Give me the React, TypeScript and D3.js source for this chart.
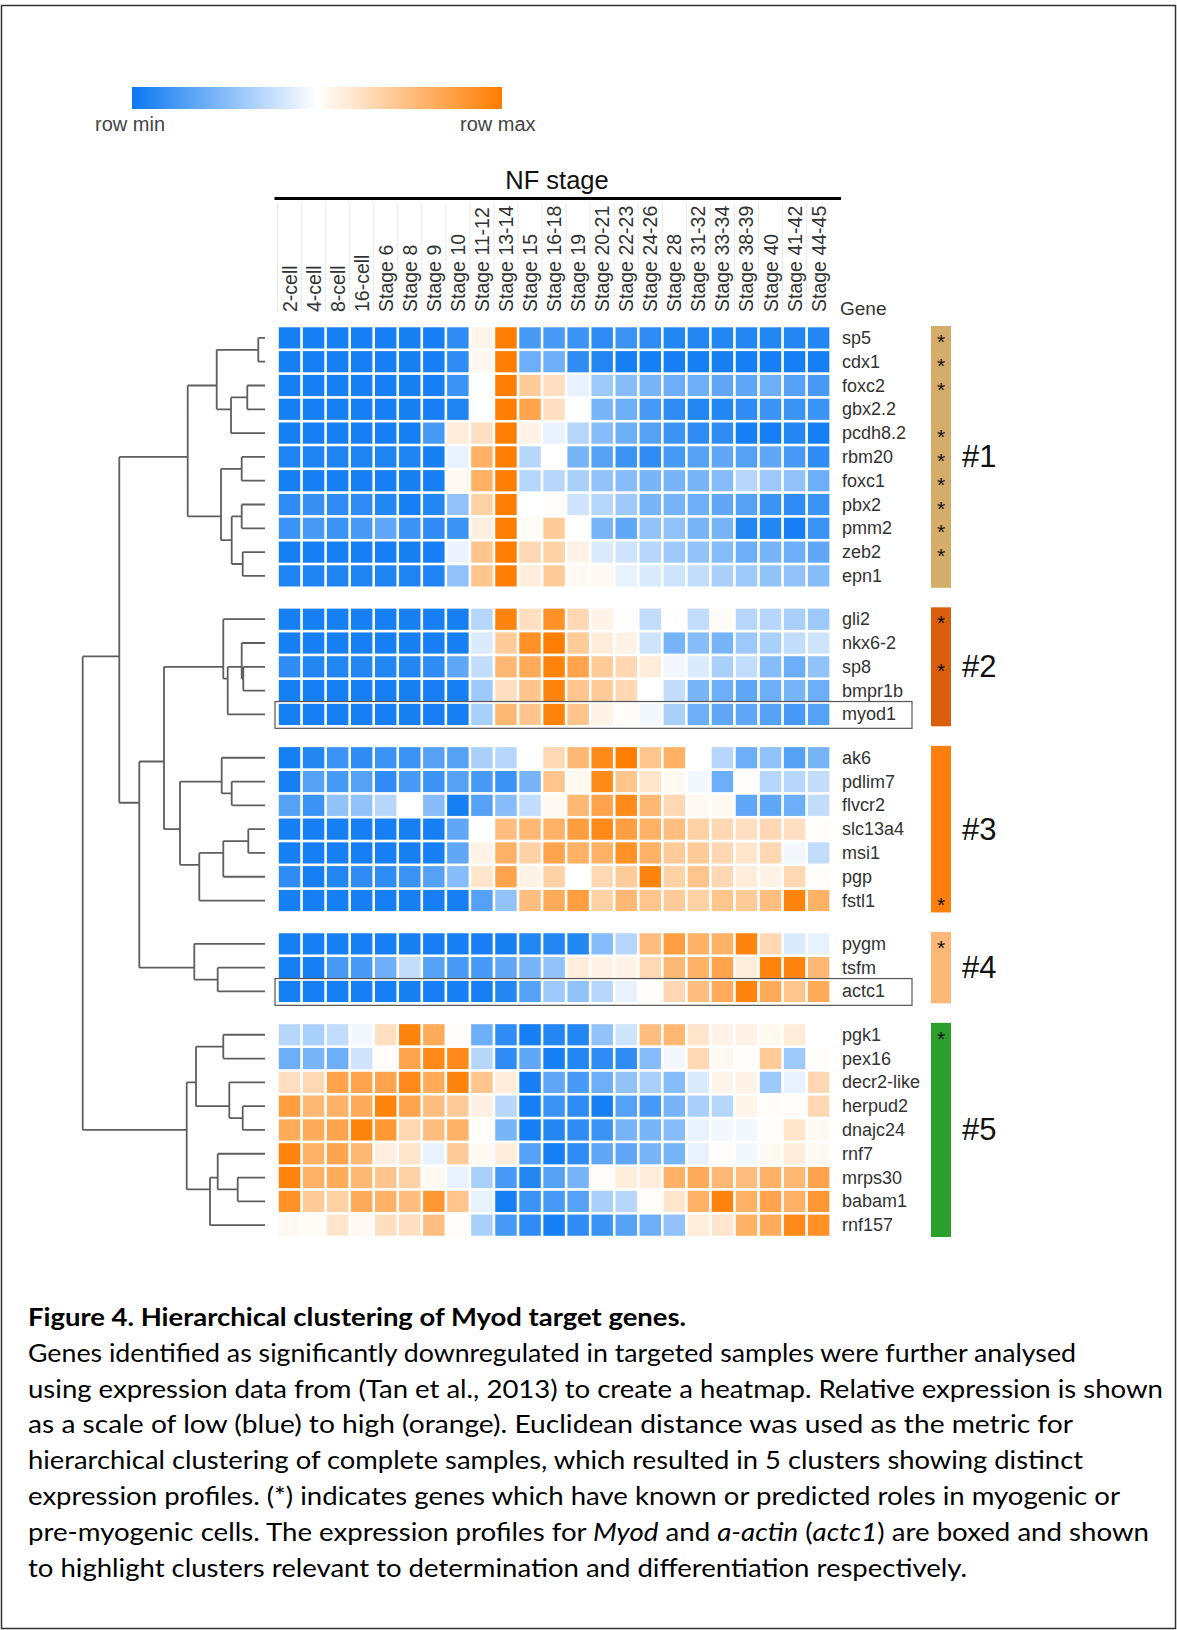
import React from 'react';
import * as d3 from 'd3';

const stages = ['2-cell', '4-cell', '8-cell', '16-cell', 'Stage 6', 'Stage 8', 'Stage 9', 'Stage 10', 'Stage 11-12', 'Stage 13-14', 'Stage 15', 'Stage 16-18', 'Stage 19', 'Stage 20-21', 'Stage 22-23', 'Stage 24-26', 'Stage 28', 'Stage 31-32', 'Stage 33-34', 'Stage 38-39', 'Stage 40', 'Stage 41-42', 'Stage 44-45'];

const cluster1Genes = ['sp5', 'cdx1', 'foxc2', 'gbx2.2', 'pcdh8.2', 'rbm20', 'foxc1', 'pbx2', 'pmm2', 'zeb2', 'epn1'];
const cluster1Values = [
  [-0.95, -0.95, -0.95, -0.95, -0.95, -0.95, -0.95, -0.85, 0.08, 1, -0.75, -0.75, -0.8, -0.85, -0.8, -0.85, -0.9, -0.9, -0.9, -0.9, -0.9, -0.9, -0.9],
  [-0.95, -0.95, -0.95, -0.95, -0.95, -0.95, -0.95, -0.85, 0.06, 1, -0.6, -0.6, -0.85, -0.9, -0.95, -0.95, -0.95, -0.95, -0.95, -0.95, -0.95, -0.95, -0.95],
  [-0.95, -0.95, -0.95, -0.95, -0.95, -0.95, -0.95, -0.8, 0, 1, 0.4, 0.25, -0.1, -0.4, -0.5, -0.55, -0.6, -0.6, -0.65, -0.65, -0.6, -0.7, -0.75],
  [-0.95, -0.95, -0.95, -0.95, -0.95, -0.95, -0.95, -0.92, 0, 1, 0.7, 0.25, 0, -0.55, -0.6, -0.75, -0.85, -0.9, -0.9, -0.85, -0.8, -0.8, -0.8],
  [-0.95, -0.95, -0.95, -0.95, -0.95, -0.95, -0.75, 0.15, 0.25, 1, 0.1, -0.1, -0.3, -0.5, -0.6, -0.7, -0.8, -0.85, -0.85, -0.95, -0.95, -0.9, -0.95],
  [-0.92, -0.92, -0.92, -0.92, -0.92, -0.92, -0.95, -0.1, 0.6, 1, -0.3, 0, -0.55, -0.7, -0.8, -0.85, -0.75, -0.7, -0.65, -0.7, -0.65, -0.75, -0.85],
  [-0.95, -0.95, -0.95, -0.95, -0.95, -0.95, -0.95, 0.05, 0.6, 1, -0.3, -0.3, -0.35, -0.45, -0.5, -0.55, -0.55, -0.55, -0.5, -0.3, -0.4, -0.45, -0.6],
  [-0.85, -0.82, -0.85, -0.85, -0.9, -0.95, -0.9, -0.45, 0.35, 1, 0, 0.02, -0.2, -0.3, -0.4, -0.55, -0.55, -0.6, -0.65, -0.7, -0.8, -0.85, -0.8],
  [-0.8, -0.75, -0.8, -0.75, -0.65, -0.8, -0.85, -0.8, 0.12, 1, 0.03, 0.4, 0, -0.55, -0.65, -0.45, -0.45, -0.55, -0.55, -0.9, -0.9, -0.95, -0.8],
  [-0.95, -0.95, -0.95, -0.95, -0.95, -0.95, -0.95, -0.08, 0.45, 1, 0.3, 0.35, 0.1, -0.15, -0.2, -0.3, -0.4, -0.45, -0.5, -0.6, -0.55, -0.6, -0.65],
  [-0.92, -0.92, -0.92, -0.92, -0.92, -0.92, -0.92, -0.45, 0.45, 1, 0.15, 0.4, 0.05, 0.05, -0.1, -0.15, -0.2, -0.25, -0.35, -0.4, -0.45, -0.45, -0.5],
];

const cluster2Genes = ['gli2', 'nkx6-2', 'sp8', 'bmpr1b', 'myod1'];
const cluster2Values = [
  [-0.95, -0.95, -0.95, -0.95, -0.95, -0.95, -0.95, -0.95, -0.3, 0.95, 0.25, 0.85, 0.3, 0.1, 0.02, -0.25, 0, -0.25, 0.03, -0.3, -0.3, -0.35, -0.4],
  [-0.95, -0.95, -0.95, -0.95, -0.95, -0.95, -0.95, -0.95, -0.15, 0.4, 0.85, 1, 0.4, 0.15, 0.1, -0.2, -0.55, -0.5, -0.55, -0.4, -0.35, -0.25, -0.2],
  [-0.85, -0.9, -0.9, -0.9, -0.9, -0.9, -0.85, -0.65, -0.25, 0.55, 0.65, 0.95, 0.7, 0.4, 0.3, 0.15, -0.05, -0.15, -0.35, -0.25, -0.5, -0.6, -0.45],
  [-0.95, -0.95, -0.95, -0.95, -0.95, -0.95, -0.95, -0.95, -0.4, 0.25, 0.45, 0.95, 0.45, 0.4, 0.3, 0, -0.25, -0.55, -0.6, -0.65, -0.6, -0.55, -0.6],
  [-0.95, -0.95, -0.95, -0.95, -0.95, -0.95, -0.95, -0.95, -0.35, 0.55, 0.45, 0.95, 0.45, 0.1, 0.02, -0.05, -0.35, -0.6, -0.65, -0.65, -0.7, -0.75, -0.7],
];

const cluster3Genes = ['ak6', 'pdlim7', 'flvcr2', 'slc13a4', 'msi1', 'pgp', 'fstl1'];
const cluster3Values = [
  [-0.95, -0.9, -0.8, -0.85, -0.8, -0.8, -0.7, -0.7, -0.35, -0.3, 0, 0.3, 0.55, 0.9, 1, 0.45, 0.6, 0, -0.3, -0.6, -0.45, -0.7, -0.55],
  [-0.95, -0.7, -0.75, -0.7, -0.85, -0.75, -0.8, -0.7, -0.75, -0.8, -0.55, 0.45, 0.05, 0.9, 0.45, 0.2, 0.05, -0.05, -0.6, 0.02, -0.3, -0.3, -0.25],
  [-0.7, -0.8, -0.45, -0.45, -0.3, 0, -0.5, -0.95, -0.7, -0.5, -0.25, 0.05, 0.55, 0.7, 0.9, 0.55, 0.3, 0.05, 0.05, -0.65, -0.65, -0.6, -0.25],
  [-0.95, -0.95, -0.95, -0.95, -0.95, -0.95, -0.95, -0.65, 0, 0.5, 0.55, 0.6, 0.75, 0.9, 0.75, 0.6, 0.5, 0.35, 0.3, 0.25, 0.3, 0.25, 0.02],
  [-0.95, -0.95, -0.95, -0.95, -0.95, -0.95, -0.95, -0.65, 0.1, 0.6, 0.35, 0.7, 0.6, 0.6, 0.85, 0.6, 0.4, 0.4, 0.3, 0.2, 0.3, -0.05, -0.25],
  [-0.85, -0.95, -0.9, -0.85, -0.85, -0.8, -0.7, -0.5, 0.2, 0.7, 0.1, 0.35, 0, 0.3, 0.4, 0.95, 0.35, 0.45, 0.3, 0.15, 0.1, 0.3, 0.02],
  [-0.95, -0.95, -0.95, -0.95, -0.95, -0.95, -0.95, -0.95, -0.7, -0.45, 0.5, 0.65, 0.75, 0.35, 0.55, 0.45, 0.4, 0.35, 0.45, 0.4, 0.5, 0.95, 0.6],
];

const cluster4Genes = ['pygm', 'tsfm', 'actc1'];
const cluster4Values = [
  [-0.95, -0.95, -0.95, -0.95, -0.95, -0.95, -0.95, -0.95, -0.95, -0.95, -0.9, -0.9, -0.9, -0.5, -0.3, 0.5, 0.75, 0.6, 0.6, 0.95, 0.3, -0.15, -0.1],
  [-0.95, -0.95, -0.75, -0.75, -0.6, -0.25, -0.7, -0.75, -0.75, -0.65, -0.55, -0.45, 0.15, 0.1, 0.1, 0.3, 0.55, 0.6, 0.7, 0.15, 0.95, 0.95, 0.55],
  [-0.95, -0.95, -0.95, -0.95, -0.95, -0.95, -0.95, -0.95, -0.95, -0.9, -0.7, -0.4, -0.45, -0.3, -0.1, 0.02, 0.3, 0.5, 0.65, 0.95, 0.65, 0.45, 0.65],
];

const cluster5Genes = ['pgk1', 'pex16', 'decr2-like', 'herpud2', 'dnajc24', 'rnf7', 'mrps30', 'babam1', 'rnf157'];
const cluster5Values = [
  [-0.3, -0.35, -0.25, -0.05, 0.25, 0.95, 0.65, 0.02, -0.6, -0.85, -0.95, -0.9, -0.9, -0.45, -0.2, 0.5, 0.55, 0.2, 0.1, 0.1, 0.05, 0.15, 0],
  [-0.6, -0.55, -0.6, -0.2, 0.02, 0.7, 0.9, 0.9, -0.3, -0.85, -0.65, -0.95, -0.9, -0.85, -0.85, -0.5, -0.05, 0.3, 0.05, 0.02, 0.4, -0.4, 0.02],
  [0.25, 0.3, 0.7, 0.7, 0.7, 0.9, 0.65, 0.95, 0.45, 0.15, -0.95, -0.65, -0.75, -0.6, -0.45, -0.35, -0.5, -0.15, 0.08, 0.1, -0.4, -0.1, 0.3],
  [0.75, 0.55, 0.6, 0.65, 0.95, 0.7, 0.5, 0.4, 0.12, -0.3, -0.95, -0.8, -0.85, -0.95, -0.7, -0.75, -0.55, -0.35, -0.3, 0.08, 0.02, 0.02, 0.3],
  [0.65, 0.65, 0.7, 0.95, 0.8, 0.3, 0.5, 0.6, 0.02, -0.55, -0.95, -0.9, -0.85, -0.8, -0.55, -0.55, -0.5, -0.1, -0.05, -0.05, 0.02, 0.2, 0.05],
  [0.95, 0.6, 0.7, 0.55, 0.12, 0.2, -0.1, 0.4, 0.05, 0.15, -0.7, -0.95, -0.85, -0.65, -0.65, -0.55, -0.55, -0.1, 0.02, -0.05, 0.05, 0.15, 0.05],
  [0.95, 0.6, 0.65, 0.55, 0.45, 0.35, 0.05, -0.1, -0.35, -0.75, -0.9, -0.7, -0.55, 0.02, 0.15, 0.15, 0.6, 0.65, 0.55, 0.5, 0.6, 0.55, 0.7],
  [0.85, 0.4, 0.35, 0.65, 0.6, 0.5, 0.8, 0.45, -0.1, -0.95, -0.8, -0.75, -0.7, -0.35, -0.3, 0.02, 0.2, 0.6, 0.95, 0.6, 0.7, 0.6, 0.8],
  [0.05, 0.03, 0.2, 0.05, 0.25, 0.25, 0.5, 0.02, -0.35, -0.75, -0.85, -0.95, -0.85, -0.8, -0.7, -0.6, -0.45, 0.15, 0.2, 0.6, 0.65, 0.9, 0.85],
];

const clusterNames = ['#1', '#2', '#3', '#4', '#5'];
const clusterColors = ['#d5ad6a', '#d95f0e', '#ff7f0e', '#fdb877', '#2ca02c'];
const myogenicGenes = ['sp5', 'cdx1', 'foxc2', 'pcdh8.2', 'rbm20', 'foxc1', 'pbx2', 'pmm2', 'zeb2', 'gli2', 'sp8', 'fstl1', 'pygm', 'pgk1'];
const boxedGenes = ['myod1', 'actc1'];

type DNode = string | { h: number; c: DNode[] };
const m = (h: number, ...c: DNode[]): DNode => ({ h, c });
// merge heights (distance units) of the gene dendrogram
const dendrogram: DNode = m(182.3,
  m(145.7,
    m(77.3,
      m(48.3, m(6.7, 'sp5', 'cdx1'), m(34, m(17.7, 'foxc2', 'gbx2.2'), 'pcdh8.2')),
      m(44, m(23.3, 'rbm20', 'foxc1'), m(33.3, m(23.3, 'pbx2', 'pmm2'), m(22.3, 'zeb2', 'epn1')))),
    m(125.7,
      m(101,
        m(41.7, 'gli2', m(37.3, m(23.3, 'nkx6-2', m(21.7, 'sp8', 'bmpr1b')), 'myod1')),
        m(85,
          m(43.3, 'ak6', m(33.3, 'pdlim7', 'flvcr2')),
          m(65.7, m(41.7, m(16.7, 'slc13a4', 'msi1'), 'pgp'), 'fstl1'))),
      m(70.7, 'pygm', m(47.3, 'tsfm', 'actc1')))),
  m(78.3,
    m(69, m(41.7, 'pgk1', 'pex16'), m(35.7, 'decr2-like', m(22.3, 'herpud2', 'dnajc24'))),
    m(55, m(47.3, 'rnf7', m(27.3, 'mrps30', 'babam1')), 'rnf157')));

const legendLabels = ['row min', 'row max'];
const axisTitle = 'NF stage';
const rowAxisTitle = 'Gene';

type Seg = { t: string; i?: boolean };
const captionTitle = 'Figure 4. Hierarchical clustering of Myod target genes.';
const captionLines: Seg[][] = [
  [{ t: 'Genes identified as significantly downregulated in targeted samples were further analysed' }],
  [{ t: 'using expression data from (Tan et al., 2013) to create a heatmap. Relative expression is shown' }],
  [{ t: 'as a scale of low (blue) to high (orange). Euclidean distance was used as the metric for' }],
  [{ t: 'hierarchical clustering of complete samples, which resulted in 5 clusters showing distinct' }],
  [{ t: 'expression profiles. (*) indicates genes which have known or predicted roles in myogenic or' }],
  [{ t: 'pre-myogenic cells. The expression profiles for ' }, { t: 'Myod', i: true }, { t: ' and ' }, { t: 'a-actin', i: true }, { t: ' (' }, { t: 'actc1', i: true }, { t: ') are boxed and shown' }],
  [{ t: 'to highlight clusters relevant to determination and differentiation respectively.' }],
];
const captionWidths = [658, 1048, 1135, 1045, 1055, 1092, 1121, 939];

const FONT = "'Liberation Sans', Arial, Helvetica, sans-serif";
const CAP_FONT = "Lato, 'Open Sans', sans-serif";

export default function App() {
  const W = 1177;
  const H = 1630;

  const clusters = [
    { genes: cluster1Genes, values: cluster1Values },
    { genes: cluster2Genes, values: cluster2Values },
    { genes: cluster3Genes, values: cluster3Values },
    { genes: cluster4Genes, values: cluster4Values },
    { genes: cluster5Genes, values: cluster5Values },
  ];

  const gapRatio = 0.82;
  const rows: { gene: string; slot: number; ci: number; values: number[] }[] = [];
  const clusterSpan: { start: number; end: number }[] = [];
  let slot = 0;
  clusters.forEach((c, ci) => {
    if (ci > 0) slot += gapRatio;
    const start = slot;
    c.genes.forEach((g, gi) => {
      rows.push({ gene: g, slot, ci, values: c.values[gi] });
      slot += 1;
    });
    clusterSpan.push({ start, end: slot });
  });
  const totalSlots = slot;
  const rowH = 23.8;
  const top = 326;
  const y = d3.scaleLinear().domain([0, totalSlots]).range([top, top + totalSlots * rowH]);
  const x = d3.scaleBand<string>().domain(stages).range([277.5, 277.5 + 23 * 24.05]);
  const color = d3.scaleLinear<string>().domain([-1, 0, 1]).range(['#0a78f2', '#ffffff', '#ff7d00']).interpolate(d3.interpolateRgb).clamp(true);

  const leafY: Record<string, number> = {};
  rows.forEach(r => { leafY[r.gene] = y(r.slot + 0.5); });

  const maxH = (dendrogram as any).h as number;
  const dx = d3.scaleLinear().domain([0, maxH]).range([265, 82.7]);
  const root = d3.hierarchy<DNode>(dendrogram, d => (typeof d === 'string' ? undefined : d.c));
  const nodeY = new Map<any, number>();
  root.eachAfter(n => {
    if (!n.children) nodeY.set(n, leafY[n.data as string]);
    else nodeY.set(n, d3.mean(n.leaves(), l => leafY[l.data as string]) as number);
  });
  const hOf = (n: d3.HierarchyNode<DNode>) => (typeof n.data === 'string' ? 0 : n.data.h);
  const dendroPath: string[] = [];
  root.each(n => {
    if (!n.children) return;
    const xp = dx(hOf(n));
    const ys = n.children.map(c => nodeY.get(c) as number);
    dendroPath.push(`M${xp},${d3.min(ys)}V${d3.max(ys)}`);
    n.children.forEach(c => {
      dendroPath.push(`M${xp},${nodeY.get(c)}H${dx(hOf(c))}`);
    });
  });

  const bw = x.bandwidth();
  const cellGap = 2.6;
  const legendX = d3.scaleLinear().domain([-1, 1]).range([132, 502]);
  const gradStops = [-1, -0.5, 0, 0.5, 1];

  const capY0 = 1326;
  const capStep = 35.8;

  return (
    <svg width={W} height={H} viewBox={`0 0 ${W} ${H}`} style={{ position: 'absolute', left: 0, top: 0, display: 'block', background: '#fff' }}>
      <defs>
        <linearGradient id="legGrad" x1="0" x2="1" y1="0" y2="0">
          {gradStops.map(v => (
            <stop key={v} offset={`${((v + 1) / 2) * 100}%`} stopColor={color(v)} />
          ))}
        </linearGradient>
      </defs>
      <rect x={0} y={0} width={W} height={H} fill="#fff" />
      <rect x={1.5} y={5.5} width={W - 3} height={H - 7} fill="none" stroke="#333" strokeWidth={1.5} />

      {/* legend */}
      <rect x={legendX(-1)} y={87} width={legendX(1) - legendX(-1)} height={22} fill="url(#legGrad)" />
      <text x={95} y={131} fontFamily={FONT} fontSize={20} fill="#444">{legendLabels[0]}</text>
      <text x={460} y={131} fontFamily={FONT} fontSize={20} fill="#444">{legendLabels[1]}</text>

      {/* column header */}
      <text x={557} y={189} textAnchor="middle" fontFamily={FONT} fontSize={25.5} fill="#111">{axisTitle}</text>
      <line x1={274.5} x2={841} y1={198.5} y2={198.5} stroke="#000" strokeWidth={3} />
      {stages.map((s, i) => (
        <line key={'sep' + s} x1={(x(s) as number)} x2={(x(s) as number)} y1={203} y2={312} stroke="#e8e8e8" strokeWidth={1} />
      ))}
      {stages.map(s => (
        <text key={'lab' + s} transform={`translate(${(x(s) as number) + bw / 2 + 7},312) rotate(-90)`} fontFamily={FONT} fontSize={19.5} fill="#333">{s}</text>
      ))}
      <text x={840} y={315} fontFamily={FONT} fontSize={19} fill="#333">{rowAxisTitle}</text>

      {/* dendrogram */}
      <path d={dendroPath.join('')} fill="none" stroke="#5e5e5e" strokeWidth={1.8} />

      {/* heatmap cells */}
      {rows.map(r => (
        <g key={'row' + r.gene}>
          {r.values.map((v, j) => (
            <rect key={j} x={(x(stages[j]) as number) + cellGap / 2} y={y(r.slot) + cellGap / 2} width={bw - cellGap} height={rowH - cellGap} fill={color(v)} />
          ))}
          <text x={842} y={y(r.slot + 0.5)} dominantBaseline="central" fontFamily={FONT} fontSize={18} fill="#333">{r.gene}</text>
        </g>
      ))}

      {/* boxes */}
      {rows.filter(r => boxedGenes.includes(r.gene)).map(r => (
        <rect key={'box' + r.gene} x={275} y={y(r.slot) - 1} width={637} height={rowH + 3} fill="none" stroke="#555" strokeWidth={1.2} />
      ))}

      {/* cluster bars */}
      {clusterSpan.map((c, i) => (
        <g key={'cl' + i}>
          <rect x={931} y={y(c.start)} width={20} height={y(c.end) - y(c.start)} fill={clusterColors[i]} />
          <text x={962} y={(y(c.start) + y(c.end)) / 2} dominantBaseline="central" fontFamily={FONT} fontSize={31} fill="#111">{clusterNames[i]}</text>
        </g>
      ))}
      {rows.filter(r => myogenicGenes.includes(r.gene)).map(r => (
        <text key={'ast' + r.gene} x={941} y={y(r.slot + 0.5) + 11} textAnchor="middle" fontFamily={FONT} fontSize={21} fill="#111">*</text>
      ))}

      {/* caption */}
      <text x={28} y={capY0} fontFamily={CAP_FONT} fontWeight="bold" fontSize={24.5} fill="#000" textLength={captionWidths[0]} lengthAdjust="spacingAndGlyphs">{captionTitle}</text>
      {captionLines.map((segs, i) => (
        <text key={'cap' + i} x={28} y={capY0 + capStep * (i + 1)} fontFamily={CAP_FONT} fontSize={24.5} fill="#000" textLength={captionWidths[i + 1]} lengthAdjust="spacingAndGlyphs">
          {segs.map((s, k) => (
            <tspan key={k} fontStyle={s.i ? 'italic' : 'normal'}>{s.t}</tspan>
          ))}
        </text>
      ))}
    </svg>
  );
}
